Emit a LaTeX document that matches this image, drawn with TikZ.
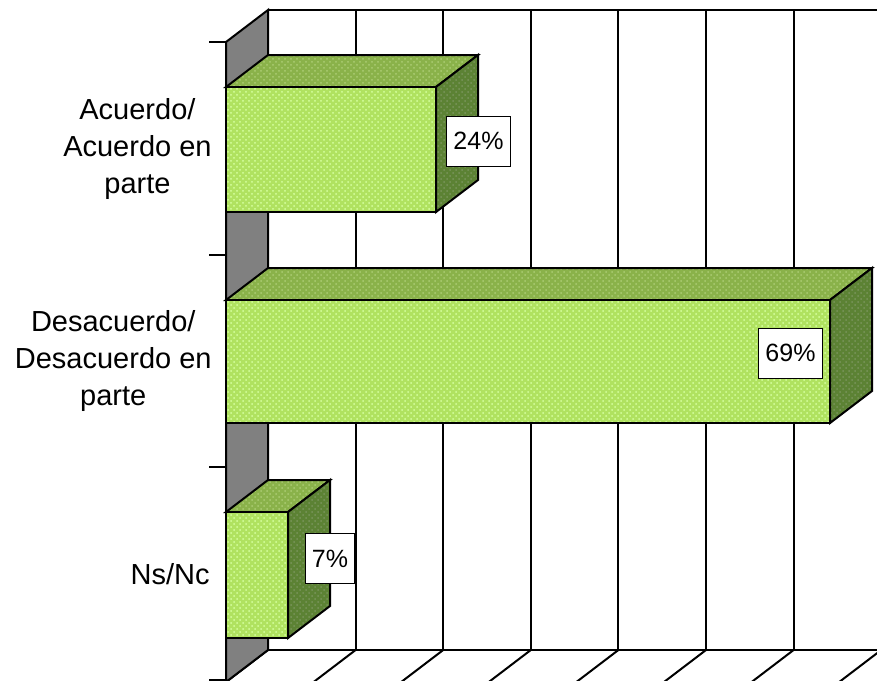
\documentclass[tikz,border=0pt]{standalone}
\usepackage{fontspec}
\setmainfont{Liberation Sans}
\usetikzlibrary{patterns}

\definecolor{frontgreen}{RGB}{176,226,96}
\definecolor{frontdots}{RGB}{214,255,160}
\definecolor{topgreen}{RGB}{138,178,74}
\definecolor{topdots}{RGB}{172,204,116}
\definecolor{sidegreen}{RGB}{92,130,52}
\definecolor{sidedots}{RGB}{122,150,92}
\definecolor{wallgray}{RGB}{128,128,128}

\tikzset{
  chart line/.style={line width=1pt},
  front face/.style={chart line, draw, preaction={fill=frontgreen}, pattern=crosshatch dots, pattern color=frontdots},
  top face/.style={chart line, draw, preaction={fill=topgreen}, pattern=crosshatch dots, pattern color=topdots},
  side face/.style={chart line, draw, preaction={fill=sidegreen}, pattern=crosshatch dots, pattern color=sidedots},
  category/.style={anchor=east, align=center, inner sep=0pt, font=\fontsize{14.5}{18.5}\selectfont},
  value box/.style={draw, fill=white, line width=0.5pt, inner xsep=3.25pt, inner ysep=0pt, minimum height=25pt, font=\fontsize{12.5}{15}\selectfont}
}

% bar with top edge #1, bottom edge #2, right edge #3 (front face)
\newcommand{\drawbar}[3]{%
  \draw[top face] (226,#1) -- (268,#1-32) -- (#3+42,#1-32) -- (#3,#1) -- cycle; % top
  \draw[side face] (#3,#1) -- (#3+42,#1-32) -- (#3+42,#2-32) -- (#3,#2) -- cycle; % side
  \draw[front face] (226,#1) rectangle (#3,#2); % front
}

\begin{document}
\begin{tikzpicture}[x=0.5pt,y=-0.5pt]
  \useasboundingbox (0,0) rectangle (877,680);
  \clip (0,0) rectangle (877,680);
  \draw[chart line] (268,10) -- (877,10); % back wall top
  \draw[chart line] (268,650) -- (877,650); % floor back edge
  \foreach \i in {0,...,7} {
    \draw[chart line] (268+87.6*\i,10) -- (268+87.6*\i,650); % grid lines
    \draw[chart line] (268+87.6*\i,650) -- ++(-42,32); % floor lines
  }
  \draw[chart line, fill=wallgray] (226,42) -- (268,10) -- (268,650) -- (226,682) -- cycle; % side wall
  \foreach \y in {42,255,467,680}
    \draw[chart line] (209,\y) -- (226,\y); % ticks

  \drawbar{87}{212}{436}
  \drawbar{300}{423}{830}
  \drawbar{512}{638}{288}

  \node[category] (acuerdo) at (212,149) {Acuerdo/\\Acuerdo en\\parte};
  \node[category] (desacuerdo) at (212,361) {Desacuerdo/\\Desacuerdo en\\parte};
  \node[category] (nsnc) at (210,574) {Ns/Nc};

  \node[value box] (v24) at (478.5,141) {24\%};
  \node[value box] (v69) at (790.5,353) {69\%};
  \node[value box] (v7) at (330,558.5) {7\%};
\end{tikzpicture}
\end{document}
